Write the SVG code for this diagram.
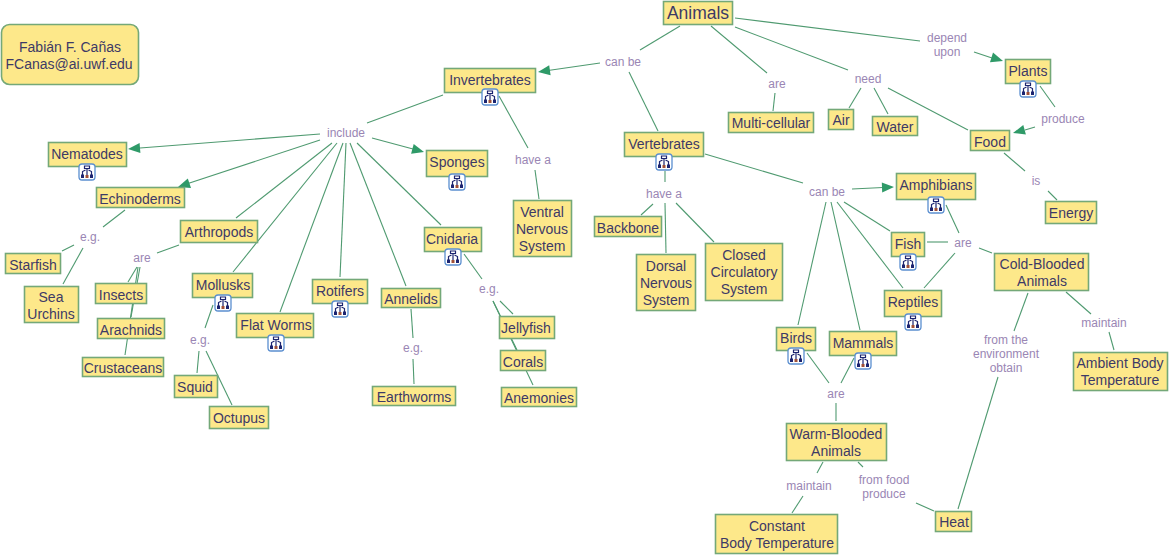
<svg xmlns="http://www.w3.org/2000/svg" xmlns:xlink="http://www.w3.org/1999/xlink" width="1169" height="557" viewBox="0 0 1169 557">
<style>
text{font-family:"Liberation Sans",Arial,sans-serif;text-anchor:middle}
.n rect{fill:#fde88a;stroke:#74a878;stroke-width:1.6}
.n text{font-size:14px;fill:#3d3a66}
.l{font-size:12px;fill:#9a86b4}
.c line{stroke:#4f9a70;stroke-width:1.1}
.h{fill:#2f9a68}
.ib{fill:#fff;stroke:#5b8fd0;stroke-width:1.3}
.ig{fill:none;stroke:#1c2470;stroke-width:1.2}
</style>
<defs>
<g id="icon">
<rect class="ib" x="-8" y="-8" width="16" height="16" rx="3"/>
<path class="ig" d="M-2.500-6h5v2.500h-5zM0-3.500v7M-4.500,4v-4.500l3-1.500M4.500,4v-4.500l-3-1.500"/>
<rect x="-6" y="2.500" width="3" height="3.500" fill="#1c2470"/><rect x="-1.500" y="3" width="3" height="3" fill="#a05038"/><rect x="3" y="2.500" width="3" height="3.500" fill="#1c2470"/>
</g>
</defs>
<g class="c" id="connectors">
<line x1="680" y1="26" x2="640" y2="50"/><line x1="735" y1="18" x2="920" y2="41"/><line x1="735" y1="27" x2="848" y2="70"/><line x1="711" y1="26" x2="767" y2="73"/>
<line x1="600" y1="63" x2="548" y2="70.500"/><line x1="629" y1="72" x2="658" y2="131"/><line x1="775" y1="93" x2="773" y2="111"/>
<line x1="861" y1="88" x2="849" y2="108"/><line x1="874" y1="88" x2="888" y2="114"/><line x1="888" y1="88" x2="968" y2="130"/>
<line x1="974" y1="52" x2="992" y2="58"/><line x1="1040" y1="86" x2="1055" y2="107"/><line x1="1035" y1="127" x2="1025" y2="130"/>
<line x1="1004" y1="153" x2="1025" y2="171"/><line x1="1048" y1="191" x2="1057" y2="200"/>
<line x1="443" y1="95" x2="367" y2="123"/><line x1="499" y1="96" x2="528" y2="148"/><line x1="535" y1="170" x2="539" y2="199"/>
<line x1="320" y1="134" x2="140" y2="148"/><line x1="320" y1="140" x2="188" y2="183.500"/><line x1="372" y1="138" x2="413" y2="149"/>
<line x1="332" y1="143" x2="236" y2="218"/><line x1="337" y1="143" x2="233" y2="272"/><line x1="343" y1="143" x2="280" y2="312"/><line x1="346" y1="143" x2="340" y2="277"/><line x1="350" y1="143" x2="406" y2="286"/><line x1="357" y1="143" x2="441" y2="225"/>
<line x1="125" y1="210" x2="103" y2="227"/><line x1="62" y1="251" x2="74" y2="245"/><line x1="63" y1="284" x2="83" y2="248"/>
<line x1="157" y1="253" x2="179" y2="245"/><line x1="128" y1="282" x2="137" y2="267"/><line x1="140" y1="267" x2="131" y2="317"/><line x1="138" y1="267" x2="125" y2="355"/>
<line x1="213" y1="305" x2="205" y2="328"/><line x1="197" y1="373" x2="199" y2="351"/><line x1="206" y1="351" x2="232" y2="405"/>
<line x1="411" y1="309" x2="413" y2="338"/><line x1="413" y1="359" x2="414" y2="384"/>
<line x1="464" y1="254" x2="482" y2="279"/><line x1="500" y1="301" x2="513" y2="314"/><line x1="493" y1="301" x2="517" y2="350"/><line x1="493" y1="301" x2="533" y2="385"/>
<line x1="665" y1="171" x2="665" y2="182"/><line x1="653" y1="204" x2="641" y2="215"/><line x1="665" y1="203" x2="666" y2="253"/><line x1="676" y1="203" x2="714" y2="242"/>
<line x1="705" y1="154" x2="803" y2="183"/><line x1="852" y1="189" x2="883" y2="187.500"/>
<line x1="826" y1="202" x2="798" y2="325"/><line x1="831" y1="202" x2="860" y2="330"/><line x1="837" y1="202" x2="903" y2="288"/><line x1="844" y1="202" x2="890" y2="231"/>
<line x1="946" y1="205" x2="959" y2="233"/><line x1="927" y1="242" x2="948" y2="242"/><line x1="955" y1="253" x2="924" y2="288"/><line x1="979" y1="248" x2="992" y2="253"/>
<line x1="807" y1="353" x2="829" y2="383"/><line x1="854" y1="358" x2="841" y2="383"/><line x1="836" y1="403" x2="836" y2="421"/>
<line x1="823" y1="462" x2="817" y2="473"/><line x1="803" y1="496" x2="792" y2="513"/><line x1="858" y1="462" x2="863" y2="467"/><line x1="916" y1="503" x2="934" y2="511"/>
<line x1="1028" y1="293" x2="1014" y2="331"/><line x1="998" y1="377" x2="958" y2="509"/><line x1="1066" y1="292" x2="1091" y2="314"/><line x1="1109" y1="332" x2="1114" y2="350"/>
<polygon class="h" points="538,72 550.600,75.300 549.200,65.300"/>
<polygon class="h" points="128,149 140.400,153.100 139.600,143.100"/>
<polygon class="h" points="178,187 191,187.900 187.800,178.500"/>
<polygon class="h" points="424,152 413.700,144.100 411.100,153.700"/>
<polygon class="h" points="894,187 881.800,182.600 882.200,192.600"/>
<polygon class="h" points="1003,61 993,52.600 990,62.200"/>
<polygon class="h" points="1013,133 1025.900,134.600 1023.300,125"/>
</g>
<text class="l" x="623" y="66">can be</text><text class="l" x="777" y="88">are</text><text class="l" x="868" y="83">need</text>
<text class="l" x="947" y="42">depend</text><text class="l" x="947" y="56">upon</text><text class="l" x="1063" y="123">produce</text><text class="l" x="1036" y="185">is</text>
<text class="l" x="346" y="137">include</text><text class="l" x="533" y="164">have a</text><text class="l" x="90" y="241">e.g.</text><text class="l" x="142" y="262">are</text><text class="l" x="200" y="344">e.g.</text><text class="l" x="413" y="352">e.g.</text><text class="l" x="489" y="293">e.g.</text>
<text class="l" x="664" y="198">have a</text><text class="l" x="827" y="196">can be</text><text class="l" x="963" y="247">are</text><text class="l" x="836" y="398">are</text><text class="l" x="809" y="490">maintain</text>
<text class="l" x="884" y="484">from food</text><text class="l" x="884" y="498">produce</text><text class="l" x="1006" y="344">from the</text><text class="l" x="1006" y="358">environment</text><text class="l" x="1006" y="372">obtain</text><text class="l" x="1104" y="327">maintain</text>
<g class="n" id="author"><rect x="1.500" y="24.500" width="137" height="60" rx="8"/><text x="70" y="52">Fabián F. Cañas</text><text x="69" y="69">FCanas@ai.uwf.edu</text></g>
<g class="n" id="animals"><rect x="663.500" y="1.500" width="69" height="23"/><text x="698" y="19" style="font-size:17.500px">Animals</text></g>
<g class="n" id="invertebrates"><rect x="444.500" y="68.500" width="91" height="24"/><text x="490" y="85">Invertebrates</text><use xlink:href="#icon" href="#icon" x="490" y="97"/></g>
<g class="n" id="vertebrates"><rect x="624.500" y="132.500" width="79" height="24"/><text x="664" y="149">Vertebrates</text><use xlink:href="#icon" href="#icon" x="664" y="162"/></g>
<g class="n" id="multicellular"><rect x="728.500" y="112.500" width="85" height="20"/><text x="771" y="128">Multi-cellular</text></g>
<g class="n" id="air"><rect x="828.500" y="109.500" width="25" height="20"/><text x="841" y="125">Air</text></g>
<g class="n" id="water"><rect x="872.500" y="116.500" width="45" height="19"/><text x="895" y="132">Water</text></g>
<g class="n" id="plants"><rect x="1005.500" y="59.500" width="45" height="24"/><text x="1028" y="76">Plants</text><use xlink:href="#icon" href="#icon" x="1028" y="89"/></g>
<g class="n" id="food"><rect x="970.500" y="130.500" width="39" height="20"/><text x="990" y="147">Food</text></g>
<g class="n" id="energy"><rect x="1045.500" y="201.500" width="51" height="22"/><text x="1071" y="218">Energy</text></g>
<g class="n" id="amphibians"><rect x="896.500" y="173.500" width="79" height="26"/><text x="936" y="190">Amphibians</text><use xlink:href="#icon" href="#icon" x="936" y="205"/></g>
<g class="n" id="fish"><rect x="891.500" y="232.500" width="33" height="24"/><text x="908" y="249">Fish</text><use xlink:href="#icon" href="#icon" x="908" y="262"/></g>
<g class="n" id="reptiles"><rect x="884.500" y="290.500" width="57" height="26"/><text x="913" y="307">Reptiles</text><use xlink:href="#icon" href="#icon" x="913" y="322"/></g>
<g class="n" id="birds"><rect x="776.500" y="327.500" width="39" height="23"/><text x="796" y="343">Birds</text><use xlink:href="#icon" href="#icon" x="796" y="356"/></g>
<g class="n" id="mammals"><rect x="829.500" y="331.500" width="67" height="24"/><text x="863" y="348">Mammals</text><use xlink:href="#icon" href="#icon" x="863" y="361"/></g>
<g class="n" id="coldblooded"><rect x="994.500" y="253.500" width="94" height="37"/><text x="1042" y="269">Cold-Blooded</text><text x="1042" y="286">Animals</text></g>
<g class="n" id="ambient"><rect x="1073.500" y="352.500" width="94" height="38"/><text x="1120" y="368">Ambient Body</text><text x="1120" y="385">Temperature</text></g>
<g class="n" id="warmblooded"><rect x="786.500" y="423.500" width="100" height="37"/><text x="836" y="439">Warm-Blooded</text><text x="836" y="456">Animals</text></g>
<g class="n" id="constant"><rect x="715.500" y="514.500" width="122" height="39"/><text x="777" y="531">Constant</text><text x="777" y="548">Body Temperature</text></g>
<g class="n" id="heat"><rect x="935.500" y="511.500" width="36" height="20"/><text x="954" y="527">Heat</text></g>
<g class="n" id="closed"><rect x="705.500" y="243.500" width="77" height="57"/><text x="744" y="260">Closed</text><text x="744" y="277">Circulatory</text><text x="744" y="294">System</text></g>
<g class="n" id="dorsal"><rect x="636.500" y="254.500" width="59" height="56"/><text x="666" y="271">Dorsal</text><text x="666" y="288">Nervous</text><text x="666" y="305">System</text></g>
<g class="n" id="backbone"><rect x="594.500" y="216.500" width="67" height="20"/><text x="628" y="233">Backbone</text></g>
<g class="n" id="ventral"><rect x="513.500" y="200.500" width="58" height="56"/><text x="542" y="217">Ventral</text><text x="542" y="234">Nervous</text><text x="542" y="251">System</text></g>
<g class="n" id="sponges"><rect x="426.500" y="150.500" width="61" height="26"/><text x="457" y="167">Sponges</text><use xlink:href="#icon" href="#icon" x="457" y="182"/></g>
<g class="n" id="nematodes"><rect x="48.500" y="142.500" width="78" height="24"/><text x="87" y="159">Nematodes</text><use xlink:href="#icon" href="#icon" x="87" y="172"/></g>
<g class="n" id="echinoderms"><rect x="96.500" y="187.500" width="88" height="20"/><text x="140" y="204">Echinoderms</text></g>
<g class="n" id="starfish"><rect x="5.500" y="253.500" width="55" height="20"/><text x="33" y="270">Starfish</text></g>
<g class="n" id="urchins"><rect x="24.500" y="286.500" width="54" height="36"/><text x="51" y="302">Sea</text><text x="51" y="319">Urchins</text></g>
<g class="n" id="arthropods"><rect x="180.500" y="220.500" width="77" height="22"/><text x="219" y="237">Arthropods</text></g>
<g class="n" id="insects"><rect x="95.500" y="283.500" width="51" height="20"/><text x="121" y="300">Insects</text></g>
<g class="n" id="arachnids"><rect x="97.500" y="318.500" width="67" height="20"/><text x="131" y="335">Arachnids</text></g>
<g class="n" id="crustaceans"><rect x="82.500" y="357.500" width="81" height="19"/><text x="123" y="373">Crustaceans</text></g>
<g class="n" id="mollusks"><rect x="192.500" y="273.500" width="60" height="24"/><text x="223" y="290">Mollusks</text><use xlink:href="#icon" href="#icon" x="223" y="303"/></g>
<g class="n" id="squid"><rect x="174.500" y="375.500" width="43" height="22"/><text x="195" y="392">Squid</text></g>
<g class="n" id="octupus"><rect x="209.500" y="406.500" width="59" height="22"/><text x="239" y="423">Octupus</text></g>
<g class="n" id="flatworms"><rect x="236.500" y="313.500" width="77" height="24"/><text x="276" y="330">Flat Worms</text><use xlink:href="#icon" href="#icon" x="276" y="343"/></g>
<g class="n" id="rotifers"><rect x="312.500" y="279.500" width="55" height="24"/><text x="340" y="296">Rotifers</text><use xlink:href="#icon" href="#icon" x="340" y="309"/></g>
<g class="n" id="annelids"><rect x="381.500" y="288.500" width="59" height="19"/><text x="411" y="304">Annelids</text></g>
<g class="n" id="earthworms"><rect x="372.500" y="386.500" width="83" height="19"/><text x="414" y="402">Earthworms</text></g>
<g class="n" id="cnidaria"><rect x="424.500" y="227.500" width="57" height="24"/><text x="452" y="244">Cnidaria</text><use xlink:href="#icon" href="#icon" x="453" y="257"/></g>
<g class="n" id="jellyfish"><rect x="499.500" y="316.500" width="55" height="22"/><text x="526" y="333">Jellyfish</text></g>
<g class="n" id="corals"><rect x="500.500" y="350.500" width="45" height="20"/><text x="523" y="367">Corals</text></g>
<g class="n" id="anemonies"><rect x="501.500" y="387.500" width="75" height="19"/><text x="539" y="403">Anemonies</text></g>
</svg>
